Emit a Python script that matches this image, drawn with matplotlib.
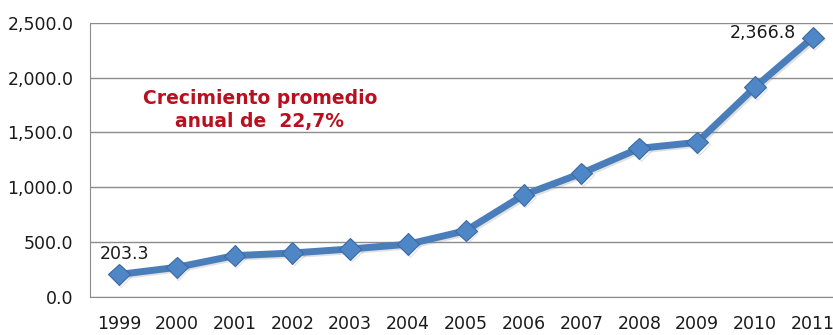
import numpy as np
import matplotlib.pyplot as plt
import matplotlib.patheffects as pe

plt.rcParams['font.family'] = ['DejaVu Sans']

# Annual series, 1999-2011
years = ['1999', '2000', '2001', '2002', '2003', '2004', '2005',
         '2006', '2007', '2008', '2009', '2010', '2011']
values = [203.3, 268.0, 375.0, 399.0, 436.0, 479.0, 603.0,
          929.0, 1127.0, 1355.0, 1410.0, 1913.0, 2366.8]
yticks = [0, 500, 1000, 1500, 2000, 2500]

blue = '#4a7ebb'

fig = plt.figure(figsize=(8.33, 3.35), dpi=100)
# axes runs off the right edge of the figure, as in the cropped chart
ax = fig.add_axes([90 / 833, 1 - 296.7 / 335, 743 / 833, (296.7 - 23) / 335])

x = np.arange(len(years))
shadow = [pe.SimpleLineShadow(offset=(1.2, -1.2), shadow_color='#888888', alpha=0.25),
          pe.Normal()]
ax.plot(x, values, color=blue, lw=5, solid_capstyle='round', zorder=3,
        path_effects=shadow)
ax.plot(x, values, ls='none', marker='D', ms=11, mfc='#4f86c6',
        mec='#3a6aa6', mew=0.8, zorder=4, path_effects=shadow)

ax.set_xlim(-0.5, 12.35)
ax.set_ylim(0, 2500)
ax.set_yticks(yticks)
ax.set_yticklabels([f'{v:,.1f}' for v in yticks])
ax.set_xticks(x)
ax.set_xticklabels(years)
ax.tick_params(axis='both', length=0, labelsize=12.5, colors='#1a1a1a')
ax.tick_params(axis='y', pad=12)
ax.tick_params(axis='x', pad=13.5)

ax.grid(axis='y', color='#8c8c8c', lw=1)
ax.set_axisbelow(True)
for side in ['top', 'right']:
    ax.spines[side].set_visible(False)
ax.spines['left'].set_color('#8c8c8c')
ax.spines['bottom'].set_color('#8c8c8c')

# value labels on the first and last points
ax.annotate(f'{values[0]:,.1f}', (x[0], values[0]), xytext=(4, 8),
            textcoords='offset points', ha='center', va='bottom',
            fontsize=12.5, color='#1a1a1a')
ax.annotate(f'{values[-1]:,.1f}', (x[-1], values[-1]), xytext=(-12, 3),
            textcoords='offset points', ha='right', va='center',
            fontsize=12.5, color='#1a1a1a')

ax.text(2.44, 1705, 'Crecimiento promedio\nanual de  22,7%', ha='center',
        va='center', fontsize=13.5, fontweight='bold', color='#b8101e',
        linespacing=1.25)

fig.savefig('out.png', dpi=100)
